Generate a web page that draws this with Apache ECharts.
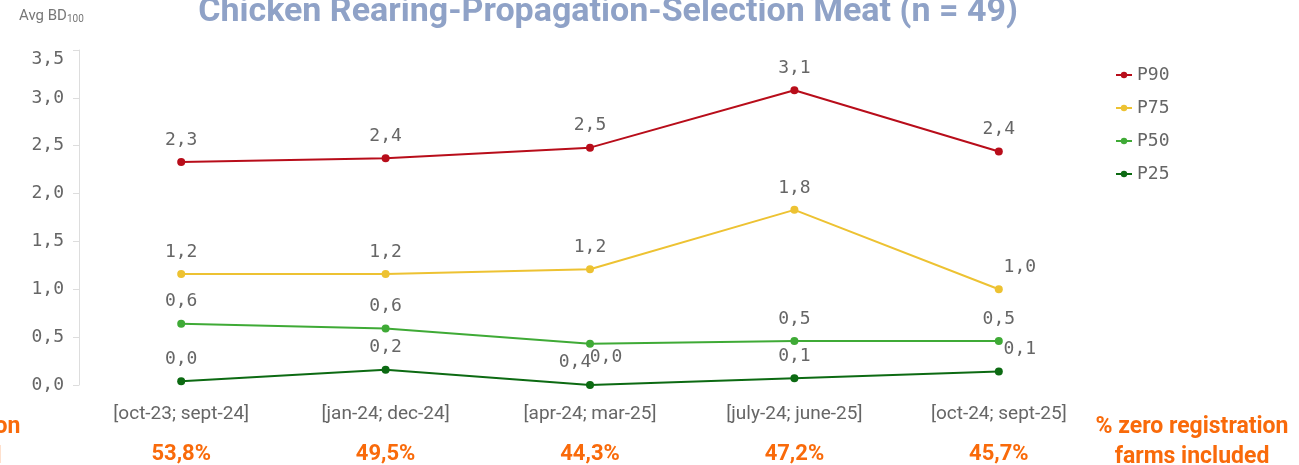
<!DOCTYPE html>
<html>
<head>
<meta charset="utf-8">
<script src="https://cdn.jsdelivr.net/npm/echarts@6/dist/echarts.min.js"></script>
<style>html,body{margin:0;padding:0;background:#fff;}#c{width:1299px;height:465px;}</style>
</head>
<body>
<div id="c"></div>
<script>
const categories = ['[oct-23; sept-24]', '[jan-24; dec-24]', '[apr-24; mar-25]', '[july-24; june-25]', '[oct-24; sept-25]'];
const zeroShare = [53.8, 49.5, 44.3, 47.2, 45.7];
const p90 = [2.33, 2.37, 2.48, 3.08, 2.44];
const p75 = [1.16, 1.16, 1.21, 1.83, 1.00];
const p50 = [0.64, 0.59, 0.43, 0.46, 0.46];
const p25 = [0.04, 0.16, 0.00, 0.07, 0.14];
const yTicks = [0, 0.5, 1.0, 1.5, 2.0, 2.5, 3.0, 3.5];

const mono = '"DejaVu Sans Mono", "Liberation Mono", monospace';
const narrow = '"Liberation Sans Narrow", "Roboto", sans-serif';
const comma = v => v.toFixed(1).replace('.', ',');

const labelTweaks = {
  P75: {4: {offset: [21, 0]}},
  P50: {2: {position: 'bottom', offset: [-15, -4]}},
  P25: {2: {offset: [16, -6]}, 4: {offset: [21, 0]}}
};

function mkSeries(name, values, color) {
  const tw = labelTweaks[name] || {};
  return {
    name, type: 'line', data: values.map((v, i) => tw[i] ? {value: v, label: tw[i]} : v),
    symbol: 'circle', symbolSize: 8,
    lineStyle: {color, width: 2}, itemStyle: {color},
    label: {show: true, position: 'top', distance: 9, color: '#666', fontFamily: mono, fontSize: 18,
      formatter: p => comma(p.value)},
    z: 3
  };
}

const chart = echarts.init(document.getElementById('c'), null, {renderer: 'canvas'});
chart.setOption({
  animation: false,
  backgroundColor: '#fff',
  title: {
    text: 'Chicken Rearing-Propagation-Selection Meat (n = 49)',
    left: 603, textAlign: 'center', top: -10,
    textStyle: {color: '#8FA2C7', fontSize: 34, fontWeight: 'bold', fontFamily: narrow}
  },
  grid: {left: 79, right: 198, top: 50, bottom: 80},
  legend: {
    orient: 'vertical', left: 1110, top: 61, itemGap: 15, itemWidth: 16, itemHeight: 8,
    textStyle: {color: '#666', fontFamily: mono, fontSize: 18},
    data: ['P90', 'P75', 'P50', 'P25']
  },
  xAxis: {
    type: 'category', data: categories, boundaryGap: true,
    axisLine: {show: false}, axisTick: {show: false},
    axisLabel: {
      margin: 18, interval: 0,
      formatter: (v, i) => '{a|' + v + '}\n{b|' + comma(zeroShare[i]) + '%}',
      rich: {
        a: {color: '#666', fontFamily: narrow, fontSize: 19, lineHeight: 22},
        b: {color: '#F96A0A', fontFamily: narrow, fontSize: 22, fontWeight: 'bold', lineHeight: 54, padding: [4, 0, 0, 0]}
      }
    }
  },
  yAxis: {
    type: 'value', min: 0, max: 3.5, interval: 0.5,
    axisLine: {show: true, lineStyle: {color: '#ddd'}},
    axisTick: {show: true, length: 6, lineStyle: {color: '#ddd'}},
    splitLine: {show: false},
    axisLabel: {
      color: '#666', fontFamily: mono, fontSize: 18, margin: 15,
      verticalAlignMaxLabel: 'top',
      formatter: v => comma(v)
    }
  },
  graphic: [
    {type: 'text', left: 19, top: 9, style: {
      text: '{m|Avg BD}{s|100}', rich: {
        m: {fontFamily: narrow, fontSize: 15, fill: '#777', color: '#777'},
        s: {fontFamily: narrow, fontSize: 10, fill: '#777', color: '#777', verticalAlign: 'bottom', padding: [6, 0, 0, 0]}
      }}},
    {type: 'text', x: 1192, y: 412, style: {
      text: '% zero registration\nfarms included', textAlign: 'center', fill: '#F96A0A',
      font: 'bold 23px ' + narrow, lineHeight: 30}},
    {type: 'text', x: -76, y: 412, style: {
      text: '% zero registration\nfarms included', textAlign: 'center', fill: '#F96A0A',
      font: 'bold 23px ' + narrow, lineHeight: 30}}
  ],
  series: [
    mkSeries('P90', p90, '#B80D1A'),
    mkSeries('P75', p75, '#EDC232'),
    mkSeries('P50', p50, '#3FAA36'),
    mkSeries('P25', p25, '#0C6A12')
  ]
});
</script>
</body>
</html>
